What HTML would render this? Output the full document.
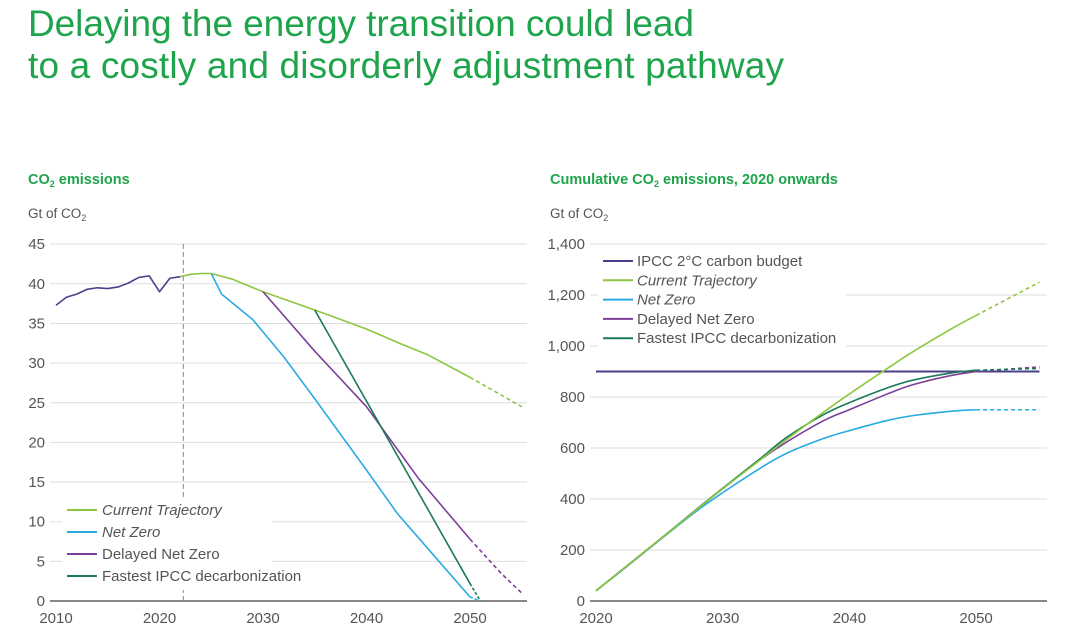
<!DOCTYPE html>
<html><head><meta charset="utf-8">
<style>
body{margin:0;background:#fff;width:1080px;height:643px;overflow:hidden;font-family:"Liberation Sans",sans-serif}
svg{position:absolute;left:0;top:0}
</style></head>
<body>
<svg id="s" width="1080" height="643">
<text x="28" y="36" font-size="37" fill="#1ea44b" textLength="666">Delaying the energy transition could lead</text>
<text x="28" y="78" font-size="37" fill="#1ea44b" textLength="756">to a costly and disorderly adjustment pathway</text>
<text x="28" y="184" font-size="14.5" font-weight="bold" fill="#1ea44b">CO<tspan font-size="9" dy="3">2</tspan><tspan dy="-3"> emissions</tspan></text>
<text x="550" y="184" font-size="14.5" font-weight="bold" fill="#1ea44b">Cumulative CO<tspan font-size="9" dy="3">2</tspan><tspan dy="-3"> emissions, 2020 onwards</tspan></text>
<text x="28" y="218" font-size="13.5" fill="#555">Gt of CO<tspan font-size="9" dy="3">2</tspan></text>
<text x="550" y="218" font-size="13.5" fill="#555">Gt of CO<tspan font-size="9" dy="3">2</tspan></text>
</svg>
<script>
const leftTicks=[0,5,10,15,20,25,30,35,40,45];
const leftYears=[2010,2020,2030,2040,2050];
const histX=[2010,2011,2012,2013,2014,2015,2016,2017,2018,2019,2020,2021,2022];
const histY=[37.3,38.3,38.7,39.3,39.5,39.4,39.6,40.1,40.8,41.0,39.0,40.7,40.9];
const curX=[2022,2023,2024,2025,2027,2030,2035,2040,2043,2046,2050];
const curY=[40.9,41.2,41.3,41.3,40.6,39.0,36.7,34.3,32.6,31.0,28.2];
const curDashX=[2050,2055];const curDashY=[28.2,24.5];
const nzX=[2025,2026,2029,2032,2035,2040,2043,2046,2050];
const nzY=[41.3,38.7,35.5,30.8,25.5,16.5,11,6.5,0.5];
const nzDashX=[2050,2051];const nzDashY=[0.5,0];
const dnzX=[2030,2035,2040,2045,2050];
const dnzY=[39,31.5,24.5,15.5,7.8];
const dnzDashX=[2050,2053,2055];const dnzDashY=[7.8,3.5,1];
const fX=[2035,2050];const fY=[36.7,2.2];
const fDashX=[2050,2051];const fDashY=[2.2,0];

const rightTicks=[0,200,400,600,800,1000,1200,1400];
const rightTickLabels=["0","200","400","600","800","1,000","1,200","1,400"];
const rightYears=[2020,2030,2040,2050];
const budget=900;
const cX=[2020,2022,2025,2028,2030,2033,2035,2038,2040,2043,2045,2048,2050];
const cCur=[40,120,240,360,440,555,632,742,812,912,977,1066,1120];
const cNz=[40,118,238,355,425,522,578,638,668,708,727,744,750];
const cDnz=[40,120,240,362,440,555,622,708,750,812,848,884,900];
const cFast=[40,120,240,362,442,560,640,732,778,836,866,894,905];
const cDashX=[2050,2055];
const cCurD=[1120,1250];const cNzD=[750,750];const cDnzD=[900,918];const cFastD=[905,912];

const NS="http://www.w3.org/2000/svg";const svg=document.getElementById('s');
function el(t,a){const e=document.createElementNS(NS,t);for(const k in a)e.setAttribute(k,a[k]);svg.appendChild(e);return e;}
const lx=y=>56+(y-2010)*10.35, ly=v=>601-v*7.93;
const rx=y=>596+(y-2020)*12.67, ry=v=>601-v*0.255;
function line(xs,ys,fx,fy,col,name,dash,smooth){
 if(smooth&&xs.length>2){const p=xs.map((x,i)=>[fx(x),fy(ys[i])]);let d='M'+p[0];for(let i=0;i<p.length-1;i++){const p0=p[i-1]||p[i],p1=p[i],p2=p[i+1],p3=p[i+2]||p2;const c1=[p1[0]+(p2[0]-p0[0])/6,p1[1]+(p2[1]-p0[1])/6],c2=[p2[0]-(p3[0]-p1[0])/6,p2[1]-(p3[1]-p1[1])/6];d+=' C'+c1+' '+c2+' '+p2;}
 const q=el('path',{d:d,fill:'none',stroke:col,'stroke-width':1.6,'stroke-dasharray':dash||'none'});return q;}
 const e=el('polyline',{points:xs.map((x,i)=>fx(x)+','+fy(ys[i])).join(' '),fill:'none',stroke:col,'stroke-width':1.6,'stroke-linejoin':'round','stroke-dasharray':dash||'none'});
 
 
 return e;}
function txt(x,y,s,a,name){const t=el('text',Object.assign({x:x,y:y,'font-size':15,fill:'#555'},a||{}));t.textContent=s;return t;}
const G='#8dc63f',B='#29abe2',P='#7b3f98',T='#1b7a5a',N='#4b3f8c';
leftTicks.forEach(v=>{const g=el('line',{x1:50,x2:527,y1:ly(v),y2:ly(v),stroke:v?'#ddd':'#888','stroke-width':v?1:2});txt(45,ly(v)+5,String(v),{'text-anchor':'end'},'left-y-tick');});
leftYears.forEach(y=>txt(lx(y),623,String(y),{'text-anchor':'middle'},'left-x-tick'));
const vl=el('line',{x1:lx(2022.3),x2:lx(2022.3),y1:244,y2:601,stroke:'#888','stroke-dasharray':'5,3'});
const lb=el('rect',{x:62,y:498,width:210,height:92,fill:'#fff'});
line(histX,histY,lx,ly,N,'historical-line');
line(curX,curY,lx,ly,G,'current-trajectory-line');
line(curDashX,curDashY,lx,ly,G,'current-trajectory-projection','4,3');
line(nzX,nzY,lx,ly,B,'net-zero-line');
line(nzDashX,nzDashY,lx,ly,B,'net-zero-projection','3,2');
line(dnzX,dnzY,lx,ly,P,'delayed-net-zero-line');
line(dnzDashX,dnzDashY,lx,ly,P,'delayed-net-zero-projection','4,3');
line(fX,fY,lx,ly,T,'fastest-ipcc-line');
line(fDashX,fDashY,lx,ly,T,'fastest-ipcc-projection','3,2');
[[G,'Current Trajectory',1],[B,'Net Zero',1],[P,'Delayed Net Zero',0],[T,'Fastest IPCC decarbonization',0]].forEach((l,i)=>{const y=510+i*22;const m=el('line',{x1:67,x2:97,y1:y,y2:y,stroke:l[0],'stroke-width':2});txt(102,y+5,l[1],l[2]?{'font-style':'italic'}:{},'left-legend-entry');});
rightTicks.forEach((v,i)=>{const g=el('line',{x1:590,x2:1047,y1:ry(v),y2:ry(v),stroke:v?'#ddd':'#888','stroke-width':v?1:2});txt(585,ry(v)+5,rightTickLabels[i],{'text-anchor':'end'},'right-y-tick');});
rightYears.forEach(y=>txt(rx(y),623,String(y),{'text-anchor':'middle'},'right-x-tick'));
const rb=el('rect',{x:598,y:250,width:248,height:98,fill:'#fff'});
const bl=el('line',{x1:rx(2020),x2:rx(2055),y1:ry(budget),y2:ry(budget),stroke:N,'stroke-width':2});
line(cX,cNz,rx,ry,B,'cum-net-zero-line',null,1);line(cDashX,cNzD,rx,ry,B,'cum-net-zero-projection','4,3');
line(cX,cDnz,rx,ry,P,'cum-delayed-net-zero-line',null,1);line(cDashX,cDnzD,rx,ry,P,'cum-delayed-projection','4,3');
line(cX,cFast,rx,ry,T,'cum-fastest-ipcc-line',null,1);line(cDashX,cFastD,rx,ry,T,'cum-fastest-projection','4,3');
line(cX,cCur,rx,ry,G,'cum-current-trajectory-line',null,1);line(cDashX,cCurD,rx,ry,G,'cum-current-projection','4,3');
[[N,'IPCC 2°C carbon budget',0],[G,'Current Trajectory',1],[B,'Net Zero',1],[P,'Delayed Net Zero',0],[T,'Fastest IPCC decarbonization',0]].forEach((l,i)=>{const y=261+i*19.3;const m=el('line',{x1:603,x2:633,y1:y,y2:y,stroke:l[0],'stroke-width':2});txt(637,y+5,l[1],l[2]?{'font-style':'italic'}:{},'right-legend-entry');});
</script>
</body></html>
